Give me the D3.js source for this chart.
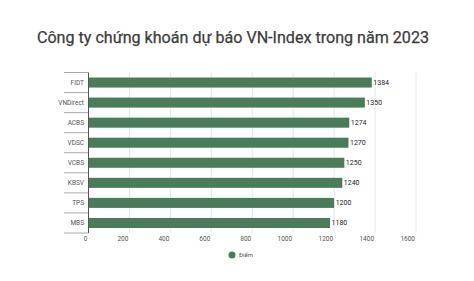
<!DOCTYPE html>
<html>
<head>
<meta charset="utf-8">
<script src="https://d3js.org/d3.v7.min.js"></script>
<style>
  body { margin: 0; background: #fff; }
  svg { font-family: Roboto, "Noto Sans", sans-serif; }
</style>
</head>
<body>
<svg id="chart" width="474" height="281"></svg>
<script>
var companies = ["FIDT", "VNDirect", "ACBS", "VDSC", "VCBS", "KBSV", "TPS", "MBS"];
var points    = [1384, 1350, 1274, 1270, 1250, 1240, 1200, 1180];
var xTicks    = [0, 200, 400, 600, 800, 1000, 1200, 1400, 1600];
var seriesName = "Điểm";

var svg = d3.select("#chart");
var barColor = "#4a7c59";

var x = d3.scaleLinear().domain([0, 1600]).range([88.5, 416]);
var y = d3.scaleBand().domain(companies).range([72.5, 233]).paddingInner(0.5).paddingOuter(0.25);

// title
svg.append("text")
  .attr("x", 233).attr("y", 43)
  .attr("text-anchor", "middle")
  .attr("font-size", 16.1)
  .attr("fill", "#3c3c3c")
  .attr("stroke", "#3c3c3c").attr("stroke-width", 0.25)
  .text("Công ty chứng khoán dự báo VN-Index trong năm 2023");

// vertical grid
svg.append("g").selectAll("line")
  .data(xTicks.slice(1))
  .enter().append("line")
  .attr("x1", function(d) { return x(d); })
  .attr("x2", function(d) { return x(d); })
  .attr("y1", 72.5).attr("y2", 233)
  .attr("stroke", "#e6e6e6").attr("stroke-width", 1);

// category separators on the left
var seps = d3.range(companies.length + 1).map(function(i) { return 72.5 + i * (233 - 72.5) / companies.length; });
svg.append("g").selectAll("line")
  .data(seps)
  .enter().append("line")
  .attr("x1", 64).attr("x2", 88.5)
  .attr("y1", function(d) { return d; })
  .attr("y2", function(d) { return d; })
  .attr("stroke", "#aaaaaa").attr("stroke-width", 1);

// bars
svg.append("g").selectAll("rect")
  .data(points)
  .enter().append("rect")
  .attr("x", x(0))
  .attr("y", function(d, i) { return y(companies[i]); })
  .attr("width", function(d) { return x(d) - x(0); })
  .attr("height", y.bandwidth())
  .attr("fill", barColor);

// value labels
svg.append("g").selectAll("text")
  .data(points)
  .enter().append("text")
  .attr("x", function(d) { return x(d) + 1.5; })
  .attr("y", function(d, i) { return y(companies[i]) + y.bandwidth() / 2 + 2.5; })
  .attr("font-size", 7)
  .attr("fill", "#222")
  .text(function(d) { return d; });

// category labels
svg.append("g").selectAll("text")
  .data(companies)
  .enter().append("text")
  .attr("x", 84)
  .attr("y", function(d) { return y(d) + y.bandwidth() / 2 + 2.5; })
  .attr("text-anchor", "end")
  .attr("font-size", 6.5)
  .attr("fill", "#555")
  .text(function(d) { return d; });

// left axis line
svg.append("line")
  .attr("x1", 88.5).attr("x2", 88.5)
  .attr("y1", 72.5).attr("y2", 233)
  .attr("stroke", "#555").attr("stroke-width", 1);

// x tick labels
svg.append("g").selectAll("text")
  .data(xTicks)
  .enter().append("text")
  .attr("x", function(d) { return x(d) - 1; })
  .attr("y", 240.5)
  .attr("text-anchor", "end")
  .attr("font-size", 6.5)
  .attr("fill", "#555")
  .text(function(d) { return d; });

// legend
svg.append("circle")
  .attr("cx", 232).attr("cy", 255).attr("r", 3.5)
  .attr("fill", barColor);
svg.append("text")
  .attr("x", 239).attr("y", 257.3)
  .attr("font-size", 6)
  .attr("fill", "#555")
  .text(seriesName);
</script>
</body>
</html>
